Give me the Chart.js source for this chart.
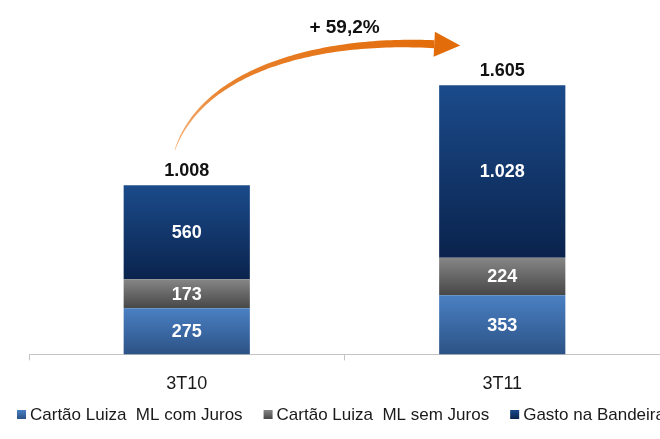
<!DOCTYPE html>
<html><head><meta charset="utf-8">
<script src="https://cdn.jsdelivr.net/npm/chart.js@4.4.1/dist/chart.umd.min.js"></script>
<style>html,body{margin:0;padding:0;background:#fff;overflow:hidden}#wrap{width:660px;height:439px;position:relative}</style>
</head><body><div id="wrap"><canvas id="c"></canvas></div>
<script>
const categories = ['3T10', '3T11'];
const seriesNames = ['Cartão Luiza  ML com Juros', 'Cartão Luiza  ML sem Juros', 'Gasto na Bandeira'];
const comJuros = [275, 353];
const semJuros = [173, 224];
const bandeira = [560, 1028];
const totals = [1008, 1605];
const growthLabel = '+ 59,2%';

const FONT = "'Liberation Sans', Arial, sans-serif";
const grads = [['#4a80c3', '#2c5285'], ['#868686', '#474747'], ['#1b4b8b', '#0a234d']];
function fmt(v){ return String(v).replace(/\B(?=(\d{3})+(?!\d))/g, '.'); }

function bg(ctx){
  const chart = ctx.chart, y = chart.scales.y, di = ctx.datasetIndex;
  if (!y || ctx.type !== 'data') return grads[di][0];
  let base = 0;
  for (let d = 0; d < di; d++) base += chart.data.datasets[d].data[ctx.dataIndex];
  const top = base + chart.data.datasets[di].data[ctx.dataIndex];
  const y0 = y.getPixelForValue(top), y1 = y.getPixelForValue(base);
  if (!isFinite(y0) || !isFinite(y1) || y0 === y1) return grads[di][0];
  const g = chart.ctx.createLinearGradient(0, y0, 0, y1);
  g.addColorStop(0, grads[di][0]); g.addColorStop(1, grads[di][1]);
  return g;
}

const labelsPlugin = {
  id: 'labels',
  afterDatasetsDraw(chart){
    const ctx = chart.ctx;
    ctx.save();
    ctx.textAlign = 'center'; ctx.textBaseline = 'middle';
    ctx.font = 'bold 18px ' + FONT;
    chart.data.datasets.forEach((ds, di) => {
      chart.getDatasetMeta(di).data.forEach((el, i) => {
        ctx.fillStyle = '#ffffff';
        ctx.fillText(fmt(ds.data[i]), el.x, (el.y + el.base) / 2 + 1);
      });
    });
    const last = chart.getDatasetMeta(chart.data.datasets.length - 1).data;
    ctx.fillStyle = '#111';
    last.forEach((el, i) => ctx.fillText(fmt(totals[i]), el.x, el.y - 14));
    ctx.restore();
  }
};

const arrowPlugin = {
  id: 'arrow',
  afterDatasetsDraw(chart){
    const last = chart.getDatasetMeta(chart.data.datasets.length - 1).data;
    const a = last[0], b = last[1];
    const P0 = [a.x - 12, a.y - 35], C1 = [a.x + 15, a.y - 115], C2 = [b.x - 185, b.y - 47], P3 = [b.x - 68, b.y - 41];
    const ctx = chart.ctx;
    const N = 80, left = [], right = [];
    let lastT = [1, 0];
    for (let k = 0; k <= N; k++){
      const t = k / N, u = 1 - t;
      const x = u*u*u*P0[0] + 3*u*u*t*C1[0] + 3*u*t*t*C2[0] + t*t*t*P3[0];
      const y = u*u*u*P0[1] + 3*u*u*t*C1[1] + 3*u*t*t*C2[1] + t*t*t*P3[1];
      let dx = 3*u*u*(C1[0]-P0[0]) + 6*u*t*(C2[0]-C1[0]) + 3*t*t*(P3[0]-C2[0]);
      let dy = 3*u*u*(C1[1]-P0[1]) + 6*u*t*(C2[1]-C1[1]) + 3*t*t*(P3[1]-C2[1]);
      const L = Math.hypot(dx, dy) || 1; dx /= L; dy /= L; lastT = [dx, dy];
      const w = 0.2 + 3.8 * Math.pow(t, 0.75);
      left.push([x - dy*w, y + dx*w]); right.push([x + dy*w, y - dx*w]);
    }
    ctx.save();
    const g = ctx.createLinearGradient(P0[0], P0[1], P3[0], P3[1]);
    g.addColorStop(0, '#f3b27a'); g.addColorStop(0.25, '#e8822d'); g.addColorStop(1, '#e36c0a');
    ctx.fillStyle = g;
    ctx.beginPath();
    left.forEach((p, i) => i ? ctx.lineTo(p[0], p[1]) : ctx.moveTo(p[0], p[1]));
    for (let i = right.length - 1; i >= 0; i--) ctx.lineTo(right[i][0], right[i][1]);
    ctx.closePath(); ctx.fill();
    const [tx, ty] = lastT, hl = 26, hw = 12.5;
    ctx.fillStyle = '#e36c0a';
    ctx.beginPath();
    ctx.moveTo(P3[0] - ty*hw, P3[1] + tx*hw);
    ctx.lineTo(P3[0] + tx*hl, P3[1] + ty*hl);
    ctx.lineTo(P3[0] + ty*hw, P3[1] - tx*hw);
    ctx.closePath(); ctx.fill();
    ctx.fillStyle = '#111';
    ctx.font = 'bold 19px ' + FONT;
    ctx.textAlign = 'center'; ctx.textBaseline = 'middle';
    ctx.fillText(growthLabel, (a.x + b.x) / 2, b.y - 57);
    ctx.restore();
  }
};

const legendPlugin = {
  id: 'customLegend',
  afterDraw(chart){
    const ctx = chart.ctx;
    ctx.save();
    ctx.font = '17px ' + FONT;
    ctx.textBaseline = 'middle'; ctx.textAlign = 'left';
    let x = 17; const yc = 415;
    seriesNames.forEach((name, i) => {
      const g = ctx.createLinearGradient(0, yc - 5, 0, yc + 4);
      g.addColorStop(0, grads[i][0]); g.addColorStop(1, grads[i][1]);
      ctx.fillStyle = g;
      ctx.fillRect(x, yc - 5, 9, 9);
      ctx.fillStyle = '#1a1a1a';
      ctx.fillText(name, x + 13, yc);
      x += 13 + ctx.measureText(name).width + 21;
    });
    ctx.restore();
  }
};

new Chart(document.getElementById('c'), {
  type: 'bar',
  data: {
    labels: categories,
    datasets: [
      { label: seriesNames[0], data: comJuros, backgroundColor: bg },
      { label: seriesNames[1], data: semJuros, backgroundColor: bg },
      { label: seriesNames[2], data: bandeira, backgroundColor: bg }
    ]
  },
  options: {
    responsive: true, maintainAspectRatio: false, animation: false,
    devicePixelRatio: 1,
    layout: { padding: { left: 29, right: 0, top: 19, bottom: 31 } },
    datasets: { bar: { barPercentage: 0.4, categoryPercentage: 1, borderWidth: 0 } },
    plugins: { legend: { display: false }, tooltip: { enabled: false } },
    scales: {
      x: {
        stacked: true,
        grid: { display: true, drawOnChartArea: false, color: '#c4c4c4', tickLength: 6, offset: true },
        border: { color: '#c4c4c4' },
        ticks: { color: '#1a1a1a', font: { family: FONT, size: 18 }, padding: 13 }
      },
      y: { stacked: true, display: false, min: 0, max: 2000 }
    }
  },
  plugins: [labelsPlugin, arrowPlugin, legendPlugin]
});
</script>
</body></html>
